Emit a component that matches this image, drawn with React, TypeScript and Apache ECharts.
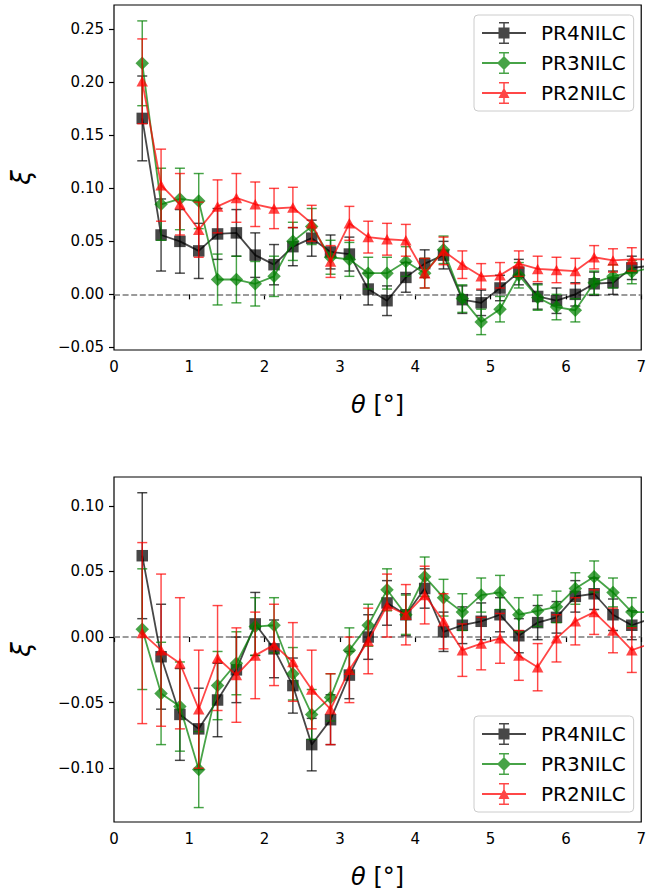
import { useEffect, useRef } from "react";
import * as echarts from "echarts";

// Angular bin centres (degrees); the last one lies just beyond the axis limit
const THETA = [0.375, 0.625, 0.875, 1.125, 1.375, 1.625, 1.875, 2.125, 2.375, 2.625, 2.875, 3.125, 3.375, 3.625, 3.875, 4.125, 4.375, 4.625, 4.875, 5.125, 5.375, 5.625, 5.875, 6.125, 6.375, 6.625, 6.875, 7.125];

const SERIES_NAMES = ["PR4NILC", "PR3NILC", "PR2NILC"];

// ---- Top panel ----
const TOP_PR4 = [0.166, 0.056, 0.050, 0.041, 0.057, 0.058, 0.037, 0.028, 0.045, 0.053, 0.040, 0.038, 0.005, -0.006, 0.016, 0.029, 0.037, -0.005, -0.008, 0.006, 0.021, -0.002, -0.006, 0.000, 0.010, 0.011, 0.025, 0.027];
const TOP_PR4_ERR = [0.040, 0.034, 0.030, 0.026, 0.024, 0.022, 0.021, 0.019, 0.018, 0.017, 0.016, 0.016, 0.015, 0.014, 0.014, 0.013, 0.013, 0.013, 0.012, 0.012, 0.012, 0.012, 0.012, 0.011, 0.011, 0.011, 0.011, 0.011];
const TOP_PR3 = [0.218, 0.085, 0.090, 0.088, 0.014, 0.014, 0.010, 0.017, 0.050, 0.064, 0.035, 0.033, 0.020, 0.020, 0.031, 0.020, 0.042, -0.004, -0.026, -0.014, 0.018, -0.003, -0.012, -0.015, 0.011, 0.017, 0.021, 0.025];
const TOP_PR3_ERR = [0.040, 0.034, 0.029, 0.026, 0.024, 0.022, 0.021, 0.019, 0.018, 0.017, 0.016, 0.016, 0.015, 0.015, 0.014, 0.014, 0.013, 0.013, 0.012, 0.012, 0.012, 0.012, 0.012, 0.011, 0.011, 0.011, 0.011, 0.011];
const TOP_PR2 = [0.201, 0.103, 0.085, 0.061, 0.083, 0.091, 0.085, 0.081, 0.082, 0.067, 0.031, 0.067, 0.054, 0.052, 0.051, 0.020, 0.041, 0.028, 0.017, 0.018, 0.029, 0.024, 0.023, 0.022, 0.035, 0.032, 0.033, 0.033];
const TOP_PR2_ERR = [0.040, 0.034, 0.029, 0.026, 0.025, 0.023, 0.021, 0.019, 0.019, 0.017, 0.015, 0.016, 0.015, 0.015, 0.015, 0.014, 0.013, 0.013, 0.012, 0.012, 0.012, 0.012, 0.012, 0.012, 0.011, 0.011, 0.011, 0.011];

// ---- Bottom panel ----
const BOT_PR4 = [0.062, -0.015, -0.059, -0.070, -0.048, -0.025, 0.010, -0.009, -0.037, -0.082, -0.063, -0.029, 0.000, 0.026, 0.017, 0.037, 0.004, 0.009, 0.012, 0.017, 0.001, 0.011, 0.015, 0.031, 0.033, 0.017, 0.009, 0.014];
const BOT_PR4_ERR = [0.048, 0.040, 0.035, 0.031, 0.028, 0.025, 0.024, 0.022, 0.021, 0.020, 0.019, 0.018, 0.017, 0.017, 0.016, 0.015, 0.015, 0.014, 0.014, 0.013, 0.013, 0.013, 0.012, 0.012, 0.012, 0.012, 0.011, 0.011];
const BOT_PR3 = [0.006, -0.043, -0.053, -0.101, -0.037, -0.020, 0.008, 0.009, -0.028, -0.059, -0.046, -0.010, 0.009, 0.036, 0.017, 0.046, 0.030, 0.019, 0.032, 0.034, 0.017, 0.020, 0.023, 0.037, 0.046, 0.034, 0.019, 0.019];
const BOT_PR3_ERR = [0.046, 0.039, 0.034, 0.029, 0.026, 0.024, 0.022, 0.021, 0.020, 0.019, 0.018, 0.017, 0.016, 0.016, 0.015, 0.015, 0.014, 0.014, 0.013, 0.013, 0.013, 0.012, 0.012, 0.012, 0.012, 0.011, 0.011, 0.011];
const BOT_PR2 = [0.003, -0.010, -0.020, -0.055, -0.016, -0.029, -0.014, -0.006, -0.019, -0.040, -0.055, -0.025, -0.003, 0.024, 0.017, 0.032, 0.012, -0.010, -0.005, -0.001, -0.014, -0.023, -0.001, 0.012, 0.019, 0.005, -0.010, -0.005];
const BOT_PR2_ERR = [0.069, 0.058, 0.050, 0.045, 0.040, 0.036, 0.033, 0.031, 0.030, 0.030, 0.027, 0.025, 0.025, 0.024, 0.023, 0.022, 0.021, 0.020, 0.020, 0.019, 0.019, 0.018, 0.018, 0.018, 0.017, 0.017, 0.017, 0.017];

// Tick labels
const TOP_Y_TICKS = [-0.05, 0.0, 0.05, 0.1, 0.15, 0.2, 0.25];
const BOT_Y_TICKS = [-0.1, -0.05, 0.0, 0.05, 0.1];

const COLORS = ["rgba(0,0,0,0.72)", "rgba(0,128,0,0.72)", "rgba(255,0,0,0.72)"];
const SYMBOLS = ["rect", "diamond", "triangle"];
const SYMBOL_SIZES: any[] = [11.5, 13.5, [11.5, 10.5]];

const FONT = "DejaVu Sans";

// legend icons: horizontal line + error bar with caps + marker
const BASE_ICON = "M0 10.1 H44 V11.9 H0 Z M21.25 0 H22.75 V22 H21.25 Z M17 0 H27 V1.5 H17 Z M17 20.5 H27 V22 H17 Z ";
const ICONS = [
  "path://" + BASE_ICON + "M16.5 5.5 H27.5 V16.5 H16.5 Z",
  "path://" + BASE_ICON + "M22 4 L29 11 L22 18 L15 11 Z",
  "path://" + BASE_ICON + "M22 5.5 L27.5 16 L16.5 16 Z",
];

function fmtY(v: number) {
  const s = Math.abs(v) < 1e-9 ? "0.00" : v.toFixed(2);
  return s.replace("-", "\u2212");
}

function errorSeries(idx: number, gi: number, ys: number[], errs: number[]) {
  const color = COLORS[idx];
  return {
    type: "custom",
    name: "err_" + gi + "_" + idx,
    xAxisIndex: gi,
    yAxisIndex: gi,
    silent: true,
    clip: true,
    z: 2 + idx * 2,
    encode: { x: 0, y: 1 },
    data: THETA.map((x, i) => [x, ys[i], errs[i]]),
    renderItem: (_p: any, api: any) => {
      const x = api.value(0);
      const y = api.value(1);
      const e = api.value(2);
      const t = api.coord([x, y + e]);
      const b = api.coord([x, y - e]);
      const cap = 5;
      const style = { stroke: color, lineWidth: 1.45, fill: null };
      return {
        type: "group",
        children: [
          { type: "line", shape: { x1: t[0], y1: t[1], x2: b[0], y2: b[1] }, style },
          { type: "line", shape: { x1: t[0] - cap, y1: t[1], x2: t[0] + cap, y2: t[1] }, style },
          { type: "line", shape: { x1: b[0] - cap, y1: b[1], x2: b[0] + cap, y2: b[1] }, style },
        ],
      };
    },
  };
}

function lineSeries(idx: number, gi: number, ys: number[], withZero: boolean) {
  const color = COLORS[idx];
  const s: any = {
    type: "line",
    name: SERIES_NAMES[idx],
    xAxisIndex: gi,
    yAxisIndex: gi,
    data: THETA.map((x, i) => [x, ys[i]]),
    symbol: SYMBOLS[idx],
    symbolSize: SYMBOL_SIZES[idx],
    showSymbol: true,
    showAllSymbol: true,
    clip: true,
    z: 3 + idx * 2,
    lineStyle: { color, width: 1.8 },
    itemStyle: { color, borderWidth: 0 },
    emphasis: { disabled: true },
  };
  if (withZero) {
    s.markLine = {
      silent: true,
      symbol: ["none", "none"],
      label: { show: false },
      lineStyle: { color: "#7a7a7a", type: [6, 2.6], width: 1.7 },
      data: [{ yAxis: 0 }],
      z: 1,
    };
  }
  return s;
}

function makeXAxis(gi: number) {
  return {
    type: "value",
    gridIndex: gi,
    min: 0,
    max: 7,
    interval: 1,
    name: "{i|\u03b8} [\u00b0]",
    nameLocation: "middle",
    nameGap: 43,
    nameTextStyle: {
      fontSize: 24,
      fontFamily: FONT,
      color: "#000",
      rich: { i: { fontSize: 24, fontFamily: FONT, fontStyle: "italic", color: "#000" } },
    },
    axisLine: { show: false },
    axisTick: { show: true, inside: false, length: 5, lineStyle: { color: "#000", width: 1.2 } },
    axisLabel: {
      margin: 9,
      fontSize: 15,
      fontFamily: FONT,
      color: "#000",
      formatter: (v: number) => String(Math.round(v)),
    },
    splitLine: { show: false },
  };
}

function makeYAxis(gi: number, min: number, max: number, ticks: number[]) {
  return {
    type: "value",
    gridIndex: gi,
    min,
    max,
    name: "\u03be",
    nameLocation: "middle",
    nameRotate: 90,
    nameGap: 80,
    nameTextStyle: { fontSize: 26, fontFamily: FONT, fontStyle: "italic", color: "#000" },
    axisLine: { show: false },
    axisTick: { show: true, inside: false, length: 5, customValues: ticks, lineStyle: { color: "#000", width: 1.2 } },
    axisLabel: {
      margin: 10,
      fontSize: 15,
      fontFamily: FONT,
      color: "#000",
      customValues: ticks,
      formatter: (v: number) => fmtY(v),
    },
    splitLine: { show: false },
  };
}

function makeLegend(top: number) {
  return {
    orient: "vertical",
    left: 474,
    top,
    padding: [7, 8, 7, 8],
    itemGap: 8,
    itemWidth: 44,
    itemHeight: 22,
    backgroundColor: "rgba(255,255,255,0.8)",
    borderColor: "#cccccc",
    borderWidth: 1,
    borderRadius: 4,
    selectedMode: false,
    textStyle: { fontSize: 20, fontFamily: FONT, color: "#000", padding: [0, 0, 0, 10] },
    data: SERIES_NAMES.map((n, i) => ({ name: n, icon: ICONS[i] })),
  };
}

export default function App() {
  const ref = useRef<HTMLDivElement>(null);
  useEffect(() => {
    document.body.style.margin = "0";
    if (!ref.current) return;
    const chart = echarts.init(ref.current, undefined, { renderer: "svg" });
    const topData = [TOP_PR4, TOP_PR3, TOP_PR2];
    const topErr = [TOP_PR4_ERR, TOP_PR3_ERR, TOP_PR2_ERR];
    const botData = [BOT_PR4, BOT_PR3, BOT_PR2];
    const botErr = [BOT_PR4_ERR, BOT_PR3_ERR, BOT_PR2_ERR];
    const series: any[] = [];
    [0, 1, 2].forEach((i) => {
      series.push(errorSeries(i, 0, topData[i], topErr[i]));
      series.push(lineSeries(i, 0, topData[i], i === 0));
      series.push(errorSeries(i, 1, botData[i], botErr[i]));
      series.push(lineSeries(i, 1, botData[i], i === 0));
    });
    chart.setOption({
      animation: false,
      backgroundColor: "#fff",
      grid: [
        { left: 114, top: 5, width: 532, height: 345, show: true, borderColor: "#000", borderWidth: 1.2, backgroundColor: "transparent" },
        { left: 114, top: 477, width: 532, height: 345, show: true, borderColor: "#000", borderWidth: 1.2, backgroundColor: "transparent" },
      ],
      xAxis: [makeXAxis(0), makeXAxis(1)],
      yAxis: [
        makeYAxis(0, -0.0525, 0.273, TOP_Y_TICKS),
        makeYAxis(1, -0.141, 0.122, BOT_Y_TICKS),
      ],
      legend: [makeLegend(15), makeLegend(716)],
      series,
    });
    return () => chart.dispose();
  }, []);
  return <div ref={ref} style={{ width: 649, height: 890 }} />;
}
